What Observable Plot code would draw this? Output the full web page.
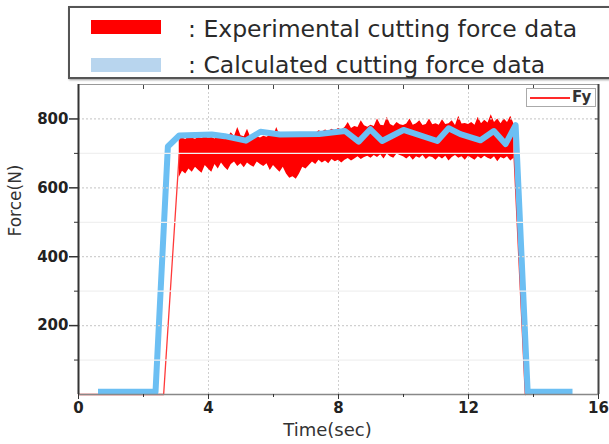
<!DOCTYPE html>
<html>
<head>
<meta charset="utf-8">
<script src="https://cdn.jsdelivr.net/npm/d3@7"></script>
<script src="https://cdn.jsdelivr.net/npm/@observablehq/plot@0.6"></script>
<style>
  html, body { margin: 0; padding: 0; background: #fff; }
  #wrap { position: relative; width: 609px; height: 444px; overflow: hidden; font-family: "DejaVu Sans", sans-serif; }
  #legend { position: absolute; left: 68px; top: 6px; width: 560px; height: 69px; border: 2px solid #555; background: #fff; box-shadow: 1px 1px 2px #999; }
  .sw { position: absolute; left: 21px; width: 70px; height: 14px; }
  .lt { position: absolute; left: 118px; font-size: 23.5px; color: #2a2a2a; white-space: nowrap; line-height: 1; }
  #fy { position: absolute; left: 526px; top: 88px; width: 68px; height: 17px; border: 1px solid #aaa; background: #fff; }
  #fy .ln { position: absolute; left: 3px; top: 8px; width: 40px; height: 2px; background: #ff2a2a; }
  #fy .tx { position: absolute; left: 45px; top: 0px; font-size: 15px; font-weight: bold; color: #333; line-height: 17px; }
  #chart { position: absolute; left: 0; top: 0; }
</style>
</head>
<body>
<div id="wrap">
  <div id="chart"></div>
  <div id="legend"></div>
  <div id="fy"></div>
</div>
<script>
// ---- data ----
const legendLabels = [": Experimental cutting force data", ": Calculated cutting force data"];
const fyLabel = "Fy";
const xLabel = "Time(sec)";
const yLabel = "Force(N)";
const xTicks = [0, 4, 8, 12, 16];
const xMinorTicks = [2, 6, 10, 14];
const xTopTicks = [2, 4, 6, 8, 10, 12, 14];
const yTicks = [200, 400, 600, 800];
const yMinorTicks = [100, 300, 500, 700];
const yRightTicks = [100, 200, 300, 400, 500, 600, 700, 800];

// calculated cutting force (blue)
const calcTime  = [0.6, 2.37, 2.75, 3.1, 4.1, 4.5, 5.15, 5.6, 6.2, 7.4, 8.2, 8.62, 8.98, 9.34, 10.0, 11.04, 11.39, 11.75, 12.37, 12.78, 13.14, 13.45, 13.82, 15.2];
const calcForce = [8, 8, 720, 752, 755, 750, 737, 763, 755, 756, 765, 734, 770, 736, 768, 736, 773, 756, 738, 765, 727, 782, 8, 8];

// experimental cutting force (red) envelope, sampled every 0.1 s from 3.1 s to 13.4 s
const expTime = Array.from({length: 104}, (_, i) => +(3.1 + i * 0.1).toFixed(1));
const expHigh = [
  742,745,740,748,744,741,746,743,750,744,
  746,742,748,745,752,747,760,749,775,751,
  748,770,746,752,749,745,750,747,753,749,
  775,751,748,758,750,746,749,752,748,753,
  755,760,758,766,762,768,764,770,766,772,
  768,775,790,772,778,775,795,780,776,782,
  778,800,782,780,805,784,779,790,783,781,
  785,800,782,786,795,781,784,800,783,786,
  782,798,784,786,795,781,808,785,787,784,
  790,782,805,786,796,788,812,790,800,786,
  800,790,808,785
];
const expLow = [
  630,648,640,655,645,660,650,642,665,655,
  645,668,655,672,660,650,668,675,662,670,
  658,672,665,660,675,668,662,670,650,665,
  655,645,660,640,628,632,625,640,660,655,
  665,675,668,680,672,678,670,682,676,680,
  672,680,685,678,684,690,682,688,692,686,
  694,688,696,684,698,690,686,698,694,690,
  684,692,680,690,686,694,682,690,688,680,
  690,684,692,678,688,694,686,690,680,692,
  686,680,690,684,692,686,682,690,676,688,
  684,690,678,686
];
// rising and falling edges of the experimental signal
const rampUpTime = [0, 0.15, 2.62, 3.1];
const rampUpForce = [0, 0, 0, 700];
const rampDownTime = [13.4, 13.75];
const rampDownForce = [700, 0];

// ---- build tables ----
const calc = calcTime.map((t, i) => ({t, f: calcForce[i]}));
const exp = expTime.map((t, i) => ({t, lo: expLow[i], hi: expHigh[i]}));
const rampUp = rampUpTime.map((t, i) => ({t, f: rampUpForce[i]}));
const rampDown = rampDownTime.map((t, i) => ({t, f: rampDownForce[i]}));

const chart = Plot.plot({
  width: 609,
  height: 444,
  marginLeft: 78,
  marginRight: 11,
  marginTop: 84,
  marginBottom: 50,
  style: {fontFamily: "DejaVu Sans, sans-serif", background: "transparent"},
  x: {domain: [0, 16]},
  y: {domain: [0, 900]},
  marks: [
    Plot.gridX(xTicks.slice(1, 4), {stroke: "#cfcfcf", strokeOpacity: 1, strokeDasharray: "2,2"}),
    Plot.areaY(exp, {x: "t", y1: "lo", y2: "hi", fill: "#ff0000", curve: "linear"}),
    Plot.line(rampUp, {x: "t", y: "f", stroke: "#ff3a3a", strokeWidth: 1.3}),
    Plot.line(rampDown, {x: "t", y: "f", stroke: "#ff2020", strokeWidth: 1.5}),
    Plot.line(calc, {x: "t", y: "f", stroke: "#6cbff3", strokeWidth: 6, strokeLinejoin: "round", strokeLinecap: "butt"}),
    Plot.gridY(yMinorTicks, {stroke: "#f0f0f0", strokeOpacity: 1, strokeWidth: 1.3}),
    Plot.gridY(yTicks, {stroke: "#d0d0d0", strokeOpacity: 1, strokeWidth: 1.3, strokeDasharray: "2,2"}),
    Plot.ruleY([900], {stroke: "#999", strokeWidth: 1.2}),
    Plot.ruleY([0], {stroke: "#888", strokeWidth: 1.5}),
    Plot.ruleX([0], {stroke: "#333", strokeWidth: 2}),
    Plot.ruleX([16], {stroke: "#444", strokeWidth: 2}),
    Plot.axisY({ticks: yTicks, tickSize: 9, tickPadding: 1, fontSize: 15, fontWeight: "bold", fill: "#222", stroke: "#333", strokeWidth: 1.5, label: null}),
    Plot.axisY({ticks: yMinorTicks, tickSize: 4, text: null, stroke: "#333", label: null}),
    Plot.axisY({anchor: "right", ticks: yRightTicks, tickSize: -4, text: null, stroke: "#444", label: null}),
    Plot.axisX({ticks: xTicks, tickSize: 5, tickPadding: 3, fontSize: 15, fontWeight: "bold", fill: "#222", stroke: "#333", label: null}),
    Plot.axisX({ticks: xMinorTicks, tickSize: 3, text: null, stroke: "#333", label: null}),
    Plot.axisX({anchor: "top", ticks: xTopTicks, tickSize: -4, text: null, stroke: "#444", label: null}),
    Plot.text([xLabel], {frameAnchor: "bottom", dx: -11, dy: 41, fontSize: 18, fill: "#333"}),
    Plot.text([yLabel], {frameAnchor: "left", rotate: -90, dx: -63, dy: -3, fontSize: 17, fill: "#333"})
  ]
});
document.getElementById("chart").appendChild(chart);

// legends
const lg = document.getElementById("legend");
const swColors = ["#ff0000", "#b8d5ee"];
const swTops = [12, 50];
const txTops = [10, 46];
legendLabels.forEach((s, i) => {
  const sw = document.createElement("div");
  sw.className = "sw"; sw.style.top = swTops[i] + "px"; sw.style.background = swColors[i];
  lg.appendChild(sw);
  const tx = document.createElement("div");
  tx.className = "lt"; tx.style.top = txTops[i] + "px"; tx.textContent = s;
  lg.appendChild(tx);
});
const fy = document.getElementById("fy");
fy.innerHTML = '<div class="ln"></div><div class="tx"></div>';
fy.querySelector(".tx").textContent = fyLabel;
</script>
</body>
</html>
